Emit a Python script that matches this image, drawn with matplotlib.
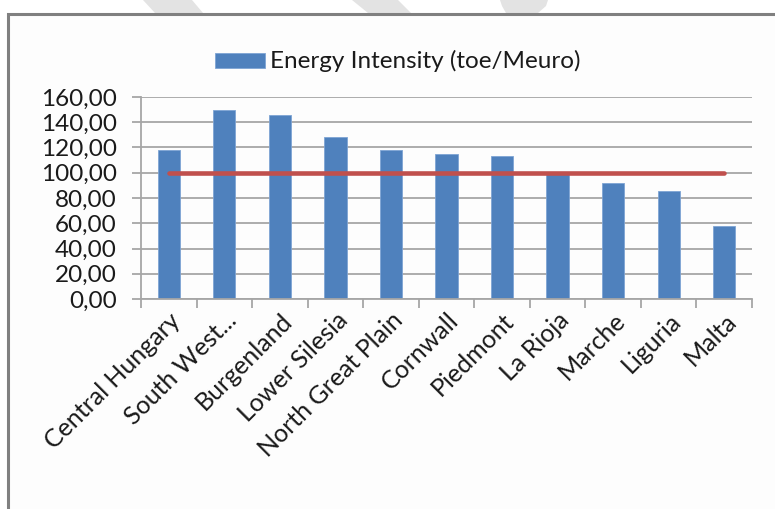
import matplotlib
matplotlib.use("Agg")
import matplotlib.pyplot as plt
from matplotlib.patches import Rectangle, Polygon
from matplotlib.ticker import FuncFormatter, MultipleLocator

regions = ["Central Hungary", "South West...", "Burgenland", "Lower Silesia",
           "North Great Plain", "Cornwall", "Piedmont", "La Rioja", "Marche",
           "Liguria", "Malta"]
intensity = [118.0, 150.0, 145.5, 128.0, 118.0, 114.5, 113.5, 99.5, 91.5, 85.5, 58.0]
reference_level = [100.0] * len(regions)
series_label = "Energy Intensity (toe/Meuro)"

W, H = 775, 509
fig = plt.figure(figsize=(W / 100, H / 100), dpi=100)
fig.patch.set_facecolor("white")

FONT = "Lato"
TXT = "#1a1a1a"

def fx(px):
    return px / W

def fy(py):
    return 1 - py / H

# decorative faint shapes above the chart frame
hatch_color = "#c9c9c9"
shapes = [
    [(143, 0), (192, 0), (203, 13), (155, 13)],
    [(352, 0), (398, 0), (411, 13), (368, 13)],
    [(500, 0), (548, 0), (546, 6), (538, 13), (506, 13), (502, 6)],
]
plt.rcParams["hatch.color"] = hatch_color
plt.rcParams["hatch.linewidth"] = 0.8
for pts in shapes:
    fig.patches.append(Polygon([(fx(x), fy(y)) for x, y in pts], closed=True,
                               transform=fig.transFigure, facecolor="#e3e3e3",
                               edgecolor="none", hatch="+", zorder=0))

# chart frame (only left and top edges fall inside the image)
fig.patches.append(Rectangle((fx(8), fy(600)), fx(900), fy(14) - fy(600),
                             transform=fig.transFigure, facecolor="#fdfdfd",
                             edgecolor="#808080", linewidth=2.2, zorder=1))

left, right, top, bottom = 141, 752, 97, 299
ax = fig.add_axes([fx(left), fy(bottom), fx(right) - fx(left), fy(top) - fy(bottom)])
ax.set_facecolor("none")
ax.set_zorder(2)

x = list(range(len(regions)))
bars = ax.bar(x, intensity, width=0.4, color="#4f81bd", edgecolor="#7ea4d4",
              linewidth=0.6, zorder=2, label=series_label)
ax.plot(x, reference_level, color="#c0504d", linewidth=3.3,
        solid_capstyle="round", zorder=3)

ax.set_xlim(-0.5, len(regions) - 0.5)
ax.set_ylim(0, 160)
ax.yaxis.set_major_locator(MultipleLocator(20))
ax.yaxis.set_major_formatter(FuncFormatter(lambda v, p: f"{v:.2f}".replace(".", ",")))
ax.grid(axis="y", color="#a6a6a6", linewidth=1.3, zorder=0)
ax.set_axisbelow(True)

for s in ["top", "right"]:
    ax.spines[s].set_visible(False)
for s in ["left", "bottom"]:
    ax.spines[s].set_color("#a6a6a6")
    ax.spines[s].set_linewidth(1.3)

ax.tick_params(axis="y", length=6.5, width=1.3, color="#a6a6a6", pad=11,
               labelsize=17.5, labelcolor=TXT)
ax.tick_params(axis="x", length=0, labelsize=18, labelcolor=TXT, pad=7)
for lab in ax.get_yticklabels():
    lab.set_fontfamily(FONT)

# x tick marks between categories
ax.set_xticks([i - 0.5 for i in range(len(regions) + 1)], minor=True)
ax.tick_params(axis="x", which="minor", length=6.5, width=1.3, color="#a6a6a6")
ax.set_xticks(x)
ax.set_xticklabels(regions, rotation=45, ha="right", rotation_mode="anchor",
                   fontfamily=FONT)

# legend
fig.patches.append(Rectangle((fx(215), fy(68)), fx(50), fy(53) - fy(68),
                             transform=fig.transFigure, facecolor="#4f81bd",
                             edgecolor="#7ea4d4", linewidth=0.6, zorder=3))
fig.text(fx(270), fy(61), series_label, fontsize=17.5, fontfamily=FONT,
         color=TXT, va="center", ha="left", zorder=3)

fig.savefig("out.png", dpi=100, facecolor="white")
